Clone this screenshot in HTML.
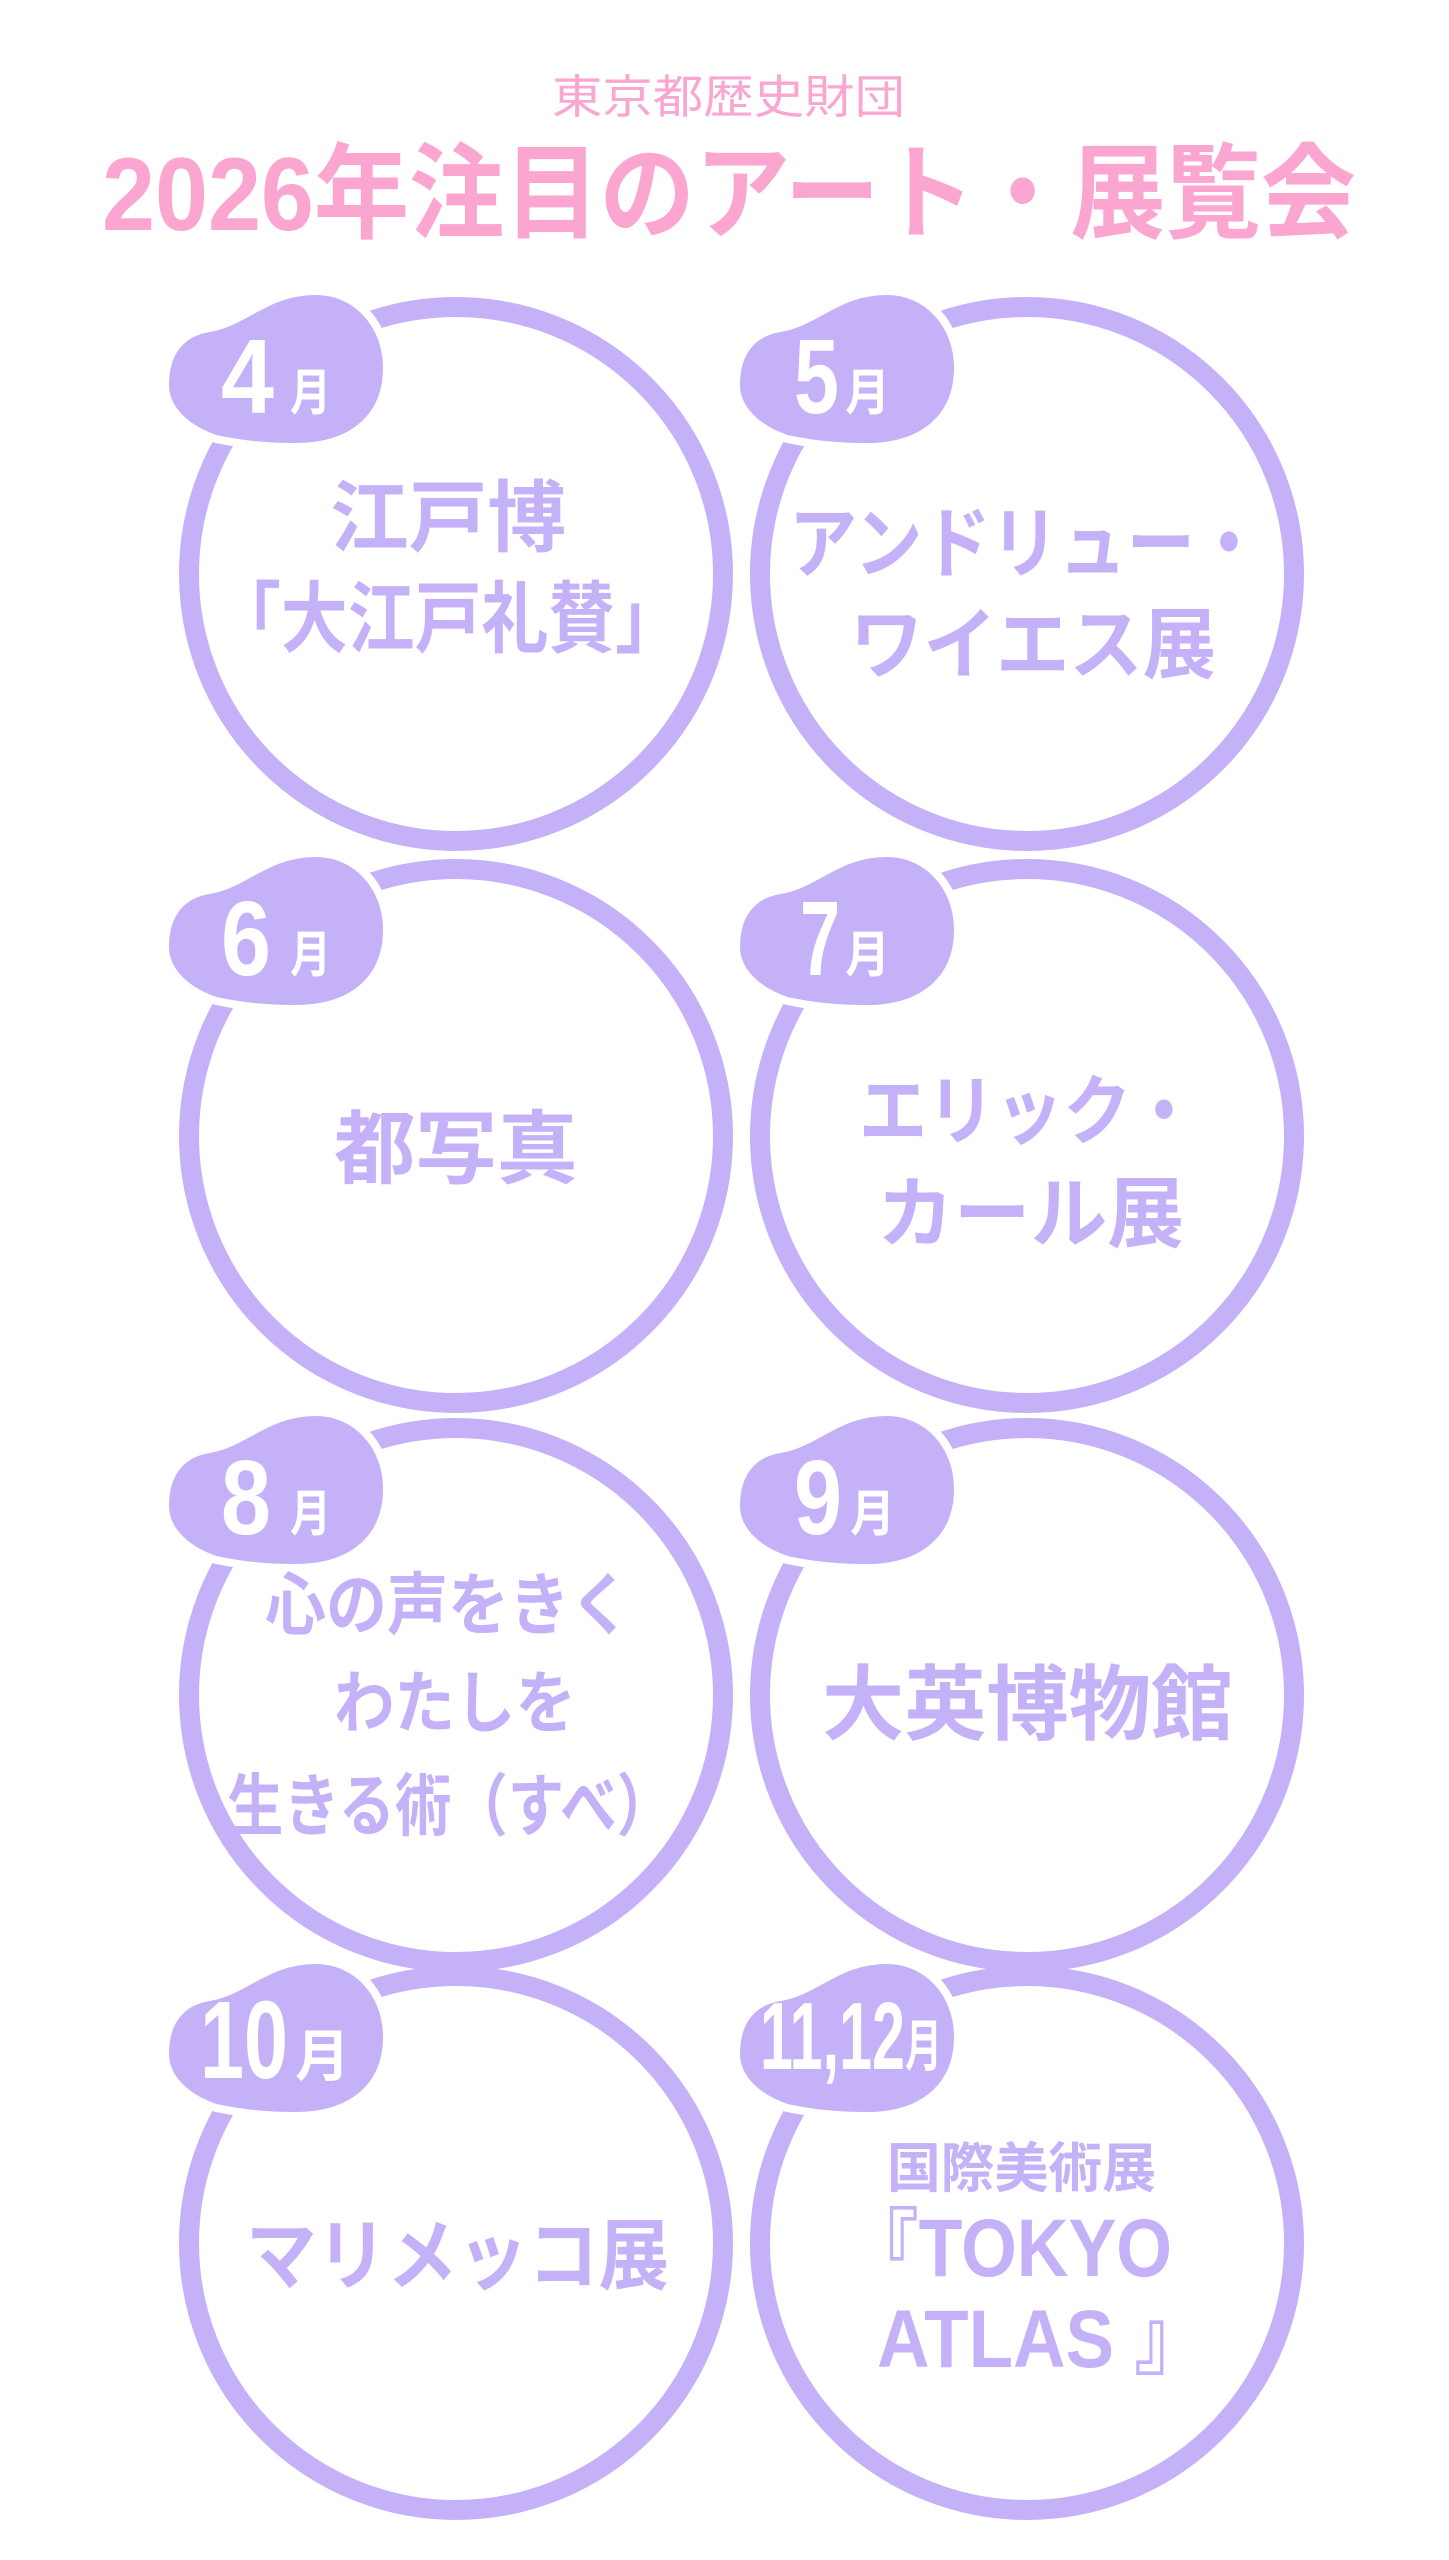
<!DOCTYPE html>
<html><head><meta charset="utf-8"><style>
html,body{margin:0;padding:0;background:#fff;}
svg{display:block}
.t{font-family:"Liberation Sans","Noto Sans CJK JP",sans-serif;font-weight:bold;fill:#c4b1f7}
.m{font-family:"Liberation Sans","Noto Sans CJK JP",sans-serif;font-weight:bold;fill:#fff}
</style></head><body>
<svg width="1449" height="2560" viewBox="0 0 1449 2560" xmlns="http://www.w3.org/2000/svg">
<defs>
<path id="blob" d="M -291,-189 C -291,-225 -272,-242 -247,-246 C -210,-252 -190,-283 -140,-283 C -100,-283 -69,-250 -69,-206 C -69,-160 -100,-127 -160,-127 C -195,-127 -215,-130 -240,-135 C -270,-145 -291,-165 -291,-189 Z"/>
</defs>
<text x="552" y="113" font-family="Liberation Sans,Noto Sans CJK JP,sans-serif" font-size="46" fill="#f9a6d1" textLength="353" lengthAdjust="spacingAndGlyphs">東京都歴史財団</text>
<text x="102" y="230" font-family="Liberation Sans,Noto Sans CJK JP,sans-serif" font-weight="bold" font-size="104" fill="#fba5d1" textLength="1254" lengthAdjust="spacingAndGlyphs">2026年注目のアート・展覧会</text>

<g fill="none" stroke="#c4b1f7" stroke-width="20">
<circle cx="456" cy="574" r="267"/>
<circle cx="1027" cy="574" r="267"/>
<circle cx="456" cy="1136" r="267"/>
<circle cx="1027" cy="1136" r="267"/>
<circle cx="456" cy="1695" r="267"/>
<circle cx="1027" cy="1695" r="267"/>
<circle cx="456" cy="2243" r="267"/>
<circle cx="1027" cy="2243" r="267"/>
</g>
<g fill="#c4b1f7" stroke="#fff" stroke-width="8">
<use href="#blob" transform="translate(456,574)"/>
<use href="#blob" transform="translate(1027,574)"/>
<use href="#blob" transform="translate(456,1136)"/>
<use href="#blob" transform="translate(1027,1136)"/>
<use href="#blob" transform="translate(456,1695)"/>
<use href="#blob" transform="translate(1027,1695)"/>
<use href="#blob" transform="translate(456,2243)"/>
<use href="#blob" transform="translate(1027,2243)"/>
</g>

<!-- month labels -->
<text class="m" x="221" y="413" font-size="106" textLength="53" lengthAdjust="spacingAndGlyphs">4</text>
<text class="m" x="290" y="410" font-size="50" textLength="41" lengthAdjust="spacingAndGlyphs">月</text>
<text class="m" x="794" y="413" font-size="106" textLength="45" lengthAdjust="spacingAndGlyphs">5</text>
<text class="m" x="845" y="410" font-size="50" textLength="45" lengthAdjust="spacingAndGlyphs">月</text>
<text class="m" x="221" y="975" font-size="106" textLength="50" lengthAdjust="spacingAndGlyphs">6</text>
<text class="m" x="290" y="972" font-size="50" textLength="41" lengthAdjust="spacingAndGlyphs">月</text>
<text class="m" x="800" y="975" font-size="106" textLength="40" lengthAdjust="spacingAndGlyphs">7</text>
<text class="m" x="845" y="972" font-size="50" textLength="45" lengthAdjust="spacingAndGlyphs">月</text>
<text class="m" x="221" y="1534" font-size="106" textLength="50" lengthAdjust="spacingAndGlyphs">8</text>
<text class="m" x="290" y="1531" font-size="50" textLength="41" lengthAdjust="spacingAndGlyphs">月</text>
<text class="m" x="794" y="1534" font-size="106" textLength="48" lengthAdjust="spacingAndGlyphs">9</text>
<text class="m" x="850" y="1531" font-size="50" textLength="45" lengthAdjust="spacingAndGlyphs">月</text>
<text class="m" x="200" y="2078" font-size="110" textLength="88" lengthAdjust="spacingAndGlyphs">10</text>
<text class="m" x="295" y="2076" font-size="56" textLength="55" lengthAdjust="spacingAndGlyphs">月</text>
<text class="m" x="760" y="2069" font-size="96" textLength="145" lengthAdjust="spacingAndGlyphs">11,12</text>
<text class="m" x="905" y="2066" font-size="56" textLength="37" lengthAdjust="spacingAndGlyphs">月</text>

<!-- titles -->
<text class="t" x="330" y="545" font-size="78" textLength="236" lengthAdjust="spacingAndGlyphs">江戸博</text>
<text class="t" x="214" y="646" font-size="78" textLength="468" lengthAdjust="spacingAndGlyphs">「大江戸礼賛」</text>
<text class="t" x="789" y="571" font-size="78" textLength="474" lengthAdjust="spacingAndGlyphs">アンドリュー・</text>
<text class="t" x="850" y="672" font-size="78" textLength="366" lengthAdjust="spacingAndGlyphs">ワイエス展</text>
<text class="t" x="334" y="1177" font-size="80" textLength="244" lengthAdjust="spacingAndGlyphs">都写真</text>
<text class="t" x="859" y="1138" font-size="76" textLength="339" lengthAdjust="spacingAndGlyphs">エリック・</text>
<text class="t" x="877" y="1241" font-size="78" textLength="307" lengthAdjust="spacingAndGlyphs">カール展</text>
<text class="t" x="265" y="1629" font-size="68" textLength="366" lengthAdjust="spacingAndGlyphs">心の声をきく</text>
<text class="t" x="334" y="1727" font-size="68" textLength="242" lengthAdjust="spacingAndGlyphs">わたしを</text>
<text class="t" x="227" y="1830" font-size="68" textLength="446" lengthAdjust="spacingAndGlyphs">生きる術（すべ）</text>
<text class="t" x="822" y="1733" font-size="82" textLength="411" lengthAdjust="spacingAndGlyphs">大英博物館</text>
<text class="t" x="246" y="2283" font-size="78" textLength="423" lengthAdjust="spacingAndGlyphs">マリメッコ展</text>
<text class="t" x="887" y="2187" font-size="54" textLength="269" lengthAdjust="spacingAndGlyphs">国際美術展</text>
<text class="t" x="847" y="2276" font-size="82" textLength="325" lengthAdjust="spacingAndGlyphs">『TOKYO</text>
<text class="t" x="877" y="2367" font-size="82" textLength="330" lengthAdjust="spacingAndGlyphs">ATLAS 』</text>
</svg>
</body></html>
